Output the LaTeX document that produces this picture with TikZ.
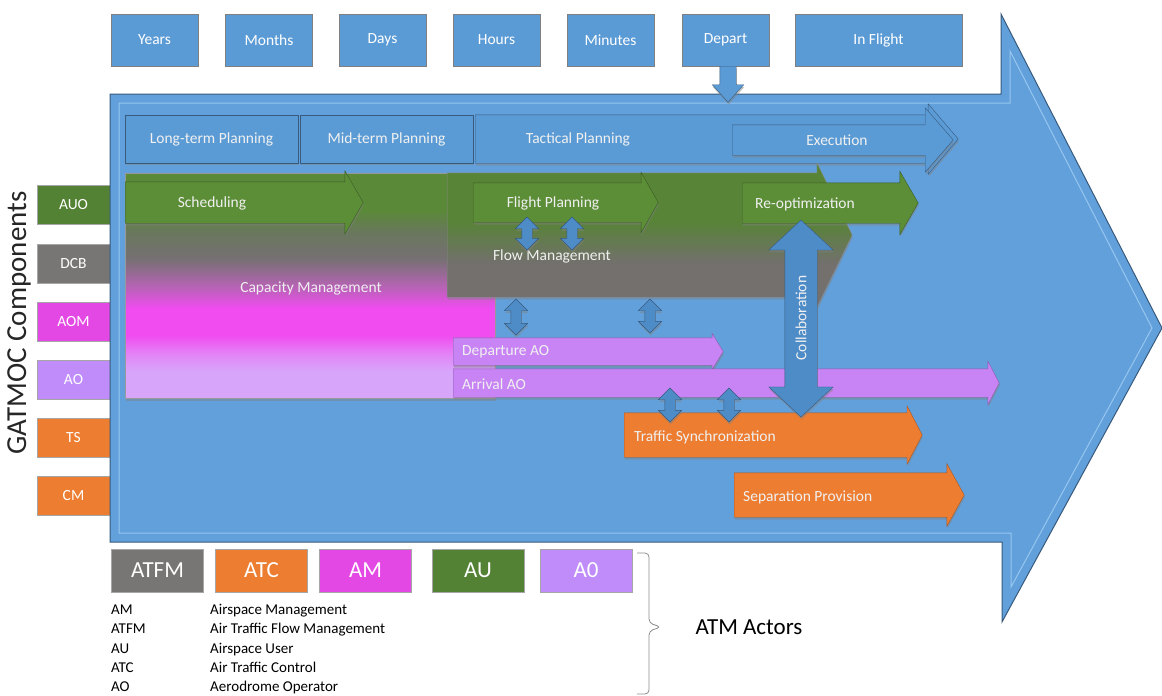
\documentclass[tikz,border=0pt]{standalone}
\usepackage{fontspec}
\setmainfont{Carlito}
\usepackage{tikz}
\usetikzlibrary{shapes.arrows}
\usetikzlibrary{shadows}
\definecolor{Gat-blue}{RGB}{98,160,220}
\definecolor{Gat-box}{RGB}{91,155,213}
\definecolor{Gat-edge}{RGB}{55,90,125}
\definecolor{Gat-light}{RGB}{150,198,238}
\definecolor{Gat-green}{RGB}{84,130,53}
\definecolor{Gat-lgreen}{RGB}{92,142,56}
\definecolor{Gat-gray}{RGB}{120,117,117}
\definecolor{Gat-mag}{RGB}{228,72,228}
\definecolor{Gat-lilac}{RGB}{192,140,250}
\definecolor{Gat-llilac}{RGB}{200,132,245}
\definecolor{Gat-orange}{RGB}{237,125,49}
\definecolor{Gat-dbl}{RGB}{78,140,200}
\definecolor{Cap-1}{RGB}{215,165,250}
\definecolor{Cap-2}{RGB}{228,130,246}
\definecolor{Cap-3}{RGB}{240,76,240}
\definecolor{Cap-4}{RGB}{180,100,178}
\definecolor{Cap-5}{RGB}{118,112,115}
\definecolor{Cap-6}{RGB}{105,120,92}
\definecolor{Cap-7}{RGB}{90,138,55}
\definecolor{Flow-1}{RGB}{115,112,110}
\definecolor{Flow-2}{RGB}{100,122,80}
\definecolor{Flow-3}{RGB}{88,132,55}
\pgfdeclareverticalshading{capshade}{100bp}{color(0bp)=(Cap-1); color(31bp)=(Cap-1); color(35bp)=(Cap-2); color(39bp)=(Cap-3); color(45bp)=(Cap-3); color(50bp)=(Cap-4); color(56bp)=(Cap-5); color(62bp)=(Cap-6); color(67bp)=(Cap-7); color(100bp)=(Cap-7)}
\pgfdeclareverticalshading{flowshade}{100bp}{color(0bp)=(Flow-1); color(40bp)=(Flow-1); color(48bp)=(Flow-2); color(55bp)=(Flow-3); color(100bp)=(Flow-3)}
\tikzset{ shadowed/.style={drop shadow={shadow xshift=0.6pt, shadow yshift=-2.4pt, opacity=0.45}} }
\tikzset{ harrow/.style n args={4}{single arrow, anchor=tail, inner sep=0pt, text depth=0pt, minimum height=#1pt, text height=#2pt, single arrow head extend=#3pt, single arrow tip angle=#4} }
\tikzset{ varrow/.style n args={4}{double arrow, rotate=90, inner sep=0pt, text depth=0pt, minimum height=#1pt, text height=#2pt, double arrow head extend=#3pt, double arrow tip angle=#4} }
\tikzset{ grnarr/.style={fill=Gat-lgreen, draw=Gat-green!70!black, shadowed} }
\tikzset{ bluarr/.style={fill=Gat-box, draw=Gat-edge, shadowed} }
\tikzset{ lilarr/.style={fill=Gat-llilac, draw=Gat-llilac!70!black, shadowed} }
\tikzset{ orgarr/.style={fill=Gat-orange, draw=Gat-orange!70!black, shadowed} }
\tikzset{ dblarr/.style={fill=Gat-dbl, draw=Gat-edge, shadowed} }
\tikzset{ lbl/.style={inner sep=0pt, text=white!94!black, font=\fontsize{15.5}{18}\selectfont} }
\tikzset{ topbox/.style={draw=black!50, fill=Gat-box, minimum width=87pt, minimum height=52pt, inner sep=0pt, text=white, font=\fontsize{15.5}{18}\selectfont} }
\tikzset{ planbox/.style={draw=Gat-edge, fill=Gat-box, minimum width=173pt, minimum height=48pt, inner sep=0pt, text=white!94!black, font=\fontsize{15.5}{18}\selectfont, shadowed} }
\tikzset{ comp/.style={draw=black!35, minimum width=73pt, minimum height=39pt, inner sep=0pt, text=white, font=\fontsize{15.5}{18}\selectfont} }
\tikzset{ actor/.style={draw=black!35, minimum width=92pt, minimum height=43pt, inner sep=0pt, text=white, font=\fontsize{23}{26}\selectfont} }
\tikzset{ legtxt/.style={anchor=west, inner sep=0pt, text height=1.6ex, text depth=0.4ex, font=\fontsize{15}{17}\selectfont} }
\tikzset{ actbrace/.style={draw=black!45, line width=0.8pt, rounded corners=4pt} }

\begin{document}
\begin{tikzpicture}[x=1pt, y=-1pt]
    \useasboundingbox (0,0) rectangle (1162,696);

    \node[comp, fill=Gat-green ] (c_auo) at (73.5,204.5) {AUO};
    \node[comp, fill=Gat-gray  ] (c_dcb) at (73.5,264.0) {DCB};
    \node[comp, fill=Gat-mag   ] (c_aom) at (73.5,321.5) {AOM};
    \node[comp, fill=Gat-lilac ] (c_ao)  at (73.5,379.5) {AO};
    \node[comp, fill=Gat-orange] (c_ts)  at (73.5,437.5) {TS};
    \node[comp, fill=Gat-orange] (c_cm)  at (73.5,495.5) {CM};

    \node[rotate=90, inner sep=0pt, text=black!85, font=\fontsize{29}{32}\selectfont] (gatmoc) at (19,323) {GATMOC Components};

    \draw[fill=Gat-blue, draw=Gat-edge, line width=1pt] (110,94) -- (1001,94) -- (1001,14) -- (1162,328) -- (1002,622) -- (1002,542) -- (110,542) -- cycle;
    \draw[draw=Gat-light, line width=1pt] (119,103) -- (1010,103) -- (1010,51) -- (1152,328) -- (1011,587) -- (1011,533) -- (119,533) -- cycle;

    \node[topbox] (t_years)   at (154.5,40) {Years};
    \node[topbox] (t_months)  at (269.0,40) {Months};
    \node[topbox] (t_days)    at (382.5,40) {Days};
    \node[topbox] (t_hours)   at (496.5,40) {Hours};
    \node[topbox] (t_minutes) at (610.5,40) {Minutes};
    \node[topbox] (t_depart)  at (725.5,40) {Depart};
    \node[topbox, minimum width=167pt] (t_flight) at (878.5,40) {In Flight};

    \node[harrow={36}{16}{7.5}{84}, bluarr, rotate=-90] (a_depart) at (728,66) {};

    \node[planbox] (p_long) at (211.5,139) {Long-term Planning};
    \node[planbox] (p_mid)  at (386.5,139) {Mid-term Planning};
    \node[harrow={483}{48}{11}{99}, bluarr] (p_tact) at (475,139) {};
    \node[harrow={221}{30}{17}{98}, bluarr] (p_exec) at (732,140) {};
    \node[lbl] (l_tact) at (578,139) {Tactical Planning};
    \node[lbl] (l_exec) at (837,140) {Execution};

    \node[anchor=north west, minimum width=370pt, minimum height=225pt, inner sep=0pt, shade, shading=capshade, draw=black!40, shadowed] (cap) at (125,173) {};
    \node[harrow={405}{124}{10}{128}, shade, shading=flowshade, draw=black!45, shadowed] (flow) at (447,235) {};

    \node[harrow={238}{41}{11}{120},   grnarr] (a_sched) at (125,202.5) {};
    \node[harrow={185}{39}{10.5}{121}, grnarr] (a_fpl)   at (473,202.5) {};
    \node[harrow={176}{40}{11.5}{120}, grnarr] (a_reopt) at (742,203.0) {};

    \node[lbl] (l_sched) at (212,203) {Scheduling};
    \node[lbl] (l_fpl)   at (553,203) {Flight Planning};
    \node[lbl] (l_reopt) at (805,204) {Re-optimization};
    \node[lbl] (l_cap)   at (311,288) {Capacity Management};
    \node[lbl] (l_flow)  at (552,256) {Flow Management};

    \node[varrow={33}{10}{6.5}{90}, dblarr] (d_fp1)  at (527,233.5) {};
    \node[varrow={33}{10}{6.5}{90}, dblarr] (d_fp2)  at (572,233.5) {};
    \node[varrow={36}{10}{6.5}{90}, dblarr] (d_dep1) at (516,317.0) {};
    \node[varrow={34}{10}{6.5}{90}, dblarr] (d_dep2) at (650,316.0) {};

    \node[harrow={270}{27}{4.5}{117}, lilarr] (a_dep) at (453,351.5) {};
    \node[harrow={546}{28}{7.5}{125}, lilarr] (a_arr) at (453,383.0) {};
    \node[lbl, anchor=west] (l_dep) at (462,352) {Departure AO};
    \node[lbl, anchor=west] (l_arr) at (462,384) {Arrival AO};

    \node[harrow={298}{44}{7}{125}, orgarr] (a_ts) at (624,435) {};
    \node[harrow={230}{44}{9}{122}, orgarr] (a_sp) at (734,495) {};
    \node[lbl, anchor=west] (l_ts) at (634,437) {Traffic Synchronization};
    \node[lbl, anchor=west] (l_sp) at (743,497) {Separation Provision};

    \node[varrow={34}{10}{6.5}{90}, dblarr] (d_ts1) at (670,405) {};
    \node[varrow={34}{10}{6.5}{90}, dblarr] (d_ts2) at (729,405) {};

    \node[varrow={197}{32}{16}{94}, dblarr] (d_collab) at (801,318.5) {};
    \node[lbl, rotate=90] (l_collab) at (801,318) {Collaboration};

    \node[actor, fill=Gat-gray  ] (x_atfm) at (157.5,570.5) {ATFM};
    \node[actor, fill=Gat-orange] (x_atc)  at (261.5,570.5) {ATC};
    \node[actor, fill=Gat-mag   ] (x_am)   at (365.5,570.5) {AM};
    \node[actor, fill=Gat-green ] (x_au)   at (478.0,570.5) {AU};
    \node[actor, fill=Gat-lilac ] (x_a0)   at (586.0,570.5) {A0};

    \node[legtxt] (k_am)   at (111,612) {AM};
    \node[legtxt] (k_atfm) at (111,631) {ATFM};
    \node[legtxt] (k_au)   at (111,651) {AU};
    \node[legtxt] (k_atc)  at (111,670) {ATC};
    \node[legtxt] (k_ao)   at (111,689) {AO};

    \node[legtxt] (v_am)   at (210,612) {Airspace Management};
    \node[legtxt] (v_atfm) at (210,631) {Air Traffic Flow Management};
    \node[legtxt] (v_au)   at (210,651) {Airspace User};
    \node[legtxt] (v_atc)  at (210,670) {Air Traffic Control};
    \node[legtxt] (v_ao)   at (210,689) {Aerodrome Operator};

    \coordinate (br_top) at (637,553);
    \coordinate (br_mid) at (661,627);
    \coordinate (br_bot) at (637,694);
    \draw[actbrace] (br_top) -- (649,553) -- (649,623) -- (br_mid) -- (649,631) -- (649,694) -- (br_bot);
    \node[inner sep=0pt, font=\fontsize{23}{26}\selectfont] (actors) at (749,627) {ATM Actors};
\end{tikzpicture}
\end{document}
